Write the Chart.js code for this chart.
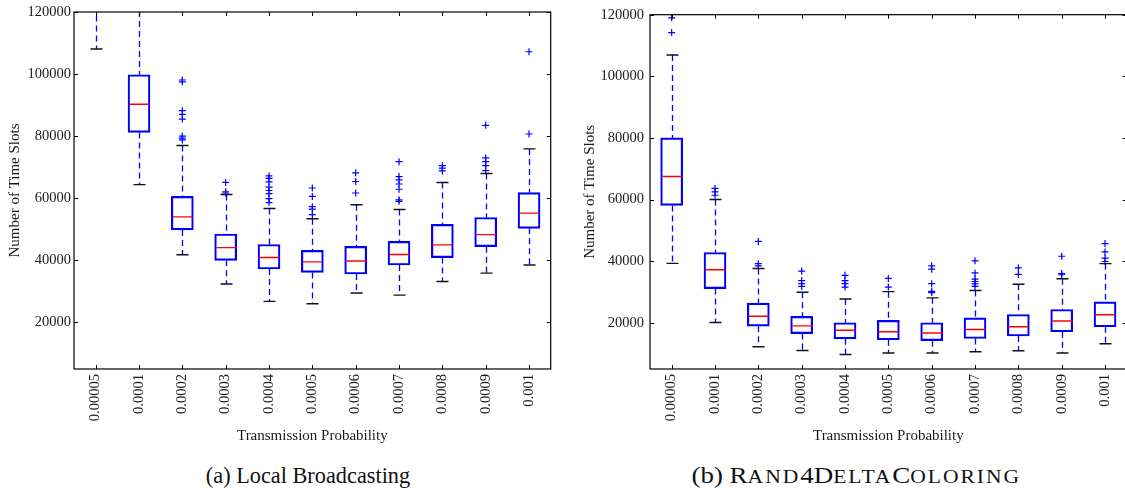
<!DOCTYPE html>
<html>
<head>
<meta charset="utf-8">
<script src="https://cdn.jsdelivr.net/npm/chart.js@4/dist/chart.umd.min.js"></script>
<style>
  html, body { margin: 0; padding: 0; background: #fff; overflow: hidden; }
  body { width: 1125px; height: 491px; position: relative; }
  canvas { position: absolute; top: 0; }
  #chartA { left: 0; }
  #chartB { left: 570px; }
  .caption {
    position: absolute; top: 462px; width: 500px; height: 28px; line-height: 28px;
    text-align: center; font-family: 'Liberation Serif', serif; font-size: 22.3px; color: #111;
    white-space: nowrap;
  }
  .wide { display: inline-block; transform: scaleX(1.21); }
  .sc { font-size: 0.8em; text-transform: uppercase; letter-spacing: 1.6px; }
</style>
</head>
<body>
<canvas id="chartA" width="565" height="455"></canvas>
<canvas id="chartB" width="565" height="455"></canvas>
<div class="caption" style="left:58px">(a) Local Broadcasting</div>
<div class="caption" style="left:606px"><span class="wide">(b) R<span class="sc">and</span>4D<span class="sc">elta</span>C<span class="sc">oloring</span></span></div>

<script>
// ── Data ──
const categories = ['0.00005', '0.0001', '0.0002', '0.0003', '0.0004', '0.0005',
                    '0.0006', '0.0007', '0.0008', '0.0009', '0.001'];
const yTicks = [20000, 40000, 60000, 80000, 100000, 120000];

// (a) Local Broadcasting — first box lies above the visible range
const lbLow  = [108100, 64400, 41800, 32400, 26800, 26000, 29500, 28800, 33200, 35900, 38500];
const lbQ1   = [135000, 81200, 49800, 40000, 37200, 36100, 35600, 38500, 40900, 44400, 50300];
const lbMed  = [150000, 90300, 54000, 44100, 40900, 39500, 39800, 41900, 45000, 48300, 55200];
const lbQ3   = [165000, 99800, 60600, 48500, 45100, 43200, 44500, 46100, 51600, 53800, 61800];
const lbHigh = [190000, 130000, 77000, 61200, 56700, 53400, 57900, 56400, 65100, 68000, 75900];
const lbOutliers = [
  [],
  [],
  [98100, 97500, 88200, 87000, 85500, 80000, 79400, 78800],
  [65100, 62100, 61700],
  [67200, 66400, 65300, 63600, 62500, 61500, 59900, 58600],
  [63300, 60600, 57300, 56500, 54700],
  [68200, 65400, 61700],
  [71800, 67000, 65900, 64600, 62900, 59500, 59000],
  [70500, 69700, 68800],
  [83500, 73000, 71800, 70500, 68900],
  [107200, 80700]
];

// (b) Rand4DeltaColoring
const rdLow  = [39300, 20100, 12200, 11000, 9700, 10200, 10200, 10600, 10900, 10200, 13200];
const rdQ1   = [58100, 31100, 18900, 16500, 14800, 14500, 14200, 14900, 15700, 17100, 18700];
const rdMed  = [67500, 37200, 22100, 19000, 17600, 17100, 16700, 17800, 18700, 20600, 22600];
const rdQ3   = [80000, 42800, 26400, 22100, 20000, 20800, 20000, 21600, 22700, 24300, 26800];
const rdHigh = [106900, 60000, 37600, 29900, 27700, 30100, 28100, 30500, 32500, 34300, 39200];
const rdOutliers = [
  [119000, 114200],
  [63600, 62500, 61400],
  [46400, 39200, 38500],
  [36800, 33700, 32700, 31800],
  [35400, 33700, 32700, 31600],
  [34400, 31600],
  [38500, 37400, 32700, 30200, 29800],
  [40100, 36200, 34200, 33400, 32600, 31800],
  [37800, 35700],
  [41600, 36000, 35600],
  [45700, 43000, 41000, 39900]
];

// ── Style ──
const FONT = "'Liberation Serif', 'Times New Roman', serif";
const TEXT = '#1a1a1a';
const BLUE = '#0000ff';
const RED = '#ff0000';

// whiskers, caps, medians, frame and inward ticks
function boxPlugin(low, med, high) {
  return {
    id: 'boxWhiskers',
    afterDatasetsDraw(chart) {
      const { ctx, chartArea: a, scales: { x, y } } = chart;
      const bars = chart.getDatasetMeta(0).data;
      const line = (x1, y1, x2, y2) => {
        ctx.beginPath(); ctx.moveTo(x1, y1); ctx.lineTo(x2, y2); ctx.stroke();
      };

      ctx.save();
      ctx.beginPath();
      ctx.rect(a.left, a.top, a.right - a.left, a.bottom - a.top);
      ctx.clip();
      categories.forEach((c, i) => {
        const px = Math.round(x.getPixelForValue(i)) + 0.5;
        const half = bars[i].width / 2;
        const [b0, b1] = chart.data.datasets[0].data[i];
        // dashed whiskers
        ctx.strokeStyle = BLUE;
        ctx.lineWidth = 1.3;
        ctx.setLineDash([6, 4]);
        line(px, y.getPixelForValue(high[i]), px, y.getPixelForValue(b1));
        line(px, y.getPixelForValue(b0), px, y.getPixelForValue(low[i]));
        ctx.setLineDash([]);
        // caps
        ctx.strokeStyle = '#111';
        ctx.lineWidth = 1.4;
        line(px - 6, y.getPixelForValue(high[i]), px + 6, y.getPixelForValue(high[i]));
        line(px - 6, y.getPixelForValue(low[i]), px + 6, y.getPixelForValue(low[i]));
        // median
        ctx.strokeStyle = RED;
        ctx.lineWidth = 1.4;
        line(px - half + 1, y.getPixelForValue(med[i]), px + half - 1, y.getPixelForValue(med[i]));
      });
      ctx.restore();

      // frame
      ctx.save();
      ctx.strokeStyle = '#000';
      ctx.lineWidth = 1.2;
      ctx.strokeRect(a.left, a.top, a.right - a.left, a.bottom - a.top);
      ctx.lineWidth = 1;
      const T = 4;
      categories.forEach((c, i) => {
        const px = Math.round(x.getPixelForValue(i)) + 0.5;
        line(px, a.top, px, a.top + T);
        line(px, a.bottom, px, a.bottom - T);
      });
      yTicks.forEach(v => {
        const py = Math.round(y.getPixelForValue(v)) + 0.5;
        line(a.left, py, a.left + T, py);
        line(a.right, py, a.right - T, py);
      });
      ctx.restore();
    }
  };
}

function makeChart(id, low, q1, med, q3, high, outliers, yAxisWidth, rightPad, yTitlePad, yTickPad) {
  const boxes = categories.map((c, i) => [q1[i], q3[i]]);
  const points = [];
  outliers.forEach((list, i) => list.forEach(v => points.push({ x: categories[i], y: v })));

  return new Chart(document.getElementById(id), {
    type: 'bar',
    data: {
      labels: categories,
      datasets: [
        {
          type: 'bar',
          data: boxes,
          backgroundColor: 'rgba(0,0,0,0)',
          borderColor: BLUE,
          borderWidth: 1.5,
          borderSkipped: false,
          barThickness: 22,
          clip: 0
        },
        {
          type: 'scatter',
          data: points,
          pointStyle: 'cross',
          pointRadius: 3.5,
          pointBorderColor: BLUE,
          pointBorderWidth: 1.2,
          showLine: false
        }
      ]
    },
    options: {
      responsive: false,
      animation: false,
      devicePixelRatio: 1,
      layout: { padding: { left: 0, top: 12, right: rightPad, bottom: 10 } },
      plugins: { legend: { display: false }, tooltip: { enabled: false } },
      scales: {
        x: {
          type: 'category',
          offset: true,
          grid: { display: false, drawTicks: false, tickLength: 0 },
          border: { display: false },
          ticks: {
            autoSkip: false, minRotation: 90, maxRotation: 90, padding: 5,
            color: TEXT, font: { family: FONT, size: 14.5 }
          },
          title: {
            display: true, text: 'Transmission Probability', color: TEXT,
            font: { family: FONT, size: 15 }, padding: { top: 0, bottom: 0 }
          },
          afterFit: s => { s.height = 76; }
        },
        y: {
          type: 'linear',
          min: 5000,
          max: 120000,
          grid: { display: false, drawTicks: false, tickLength: 0 },
          border: { display: false },
          afterBuildTicks: s => { s.ticks = yTicks.map(v => ({ value: v })); },
          ticks: {
            padding: yTickPad, color: TEXT, font: { family: FONT, size: 14.5 },
            callback: v => String(v)
          },
          title: {
            display: true, text: 'Number of Time Slots', color: TEXT,
            font: { family: FONT, size: 15 }, padding: { top: yTitlePad, bottom: 0 }
          },
          afterFit: s => { s.width = yAxisWidth; }
        }
      }
    },
    plugins: [boxPlugin(low, med, high)]
  });
}

Chart.defaults.font.family = FONT;
makeChart('chartA', lbLow, lbQ1, lbMed, lbQ3, lbHigh, lbOutliers, 74, 14.3, 6, 3);
makeChart('chartB', rdLow, rdQ1, rdMed, rdQ3, rdHigh, rdOutliers, 80, 8.3, 11, 6);
</script>
</body>
</html>
